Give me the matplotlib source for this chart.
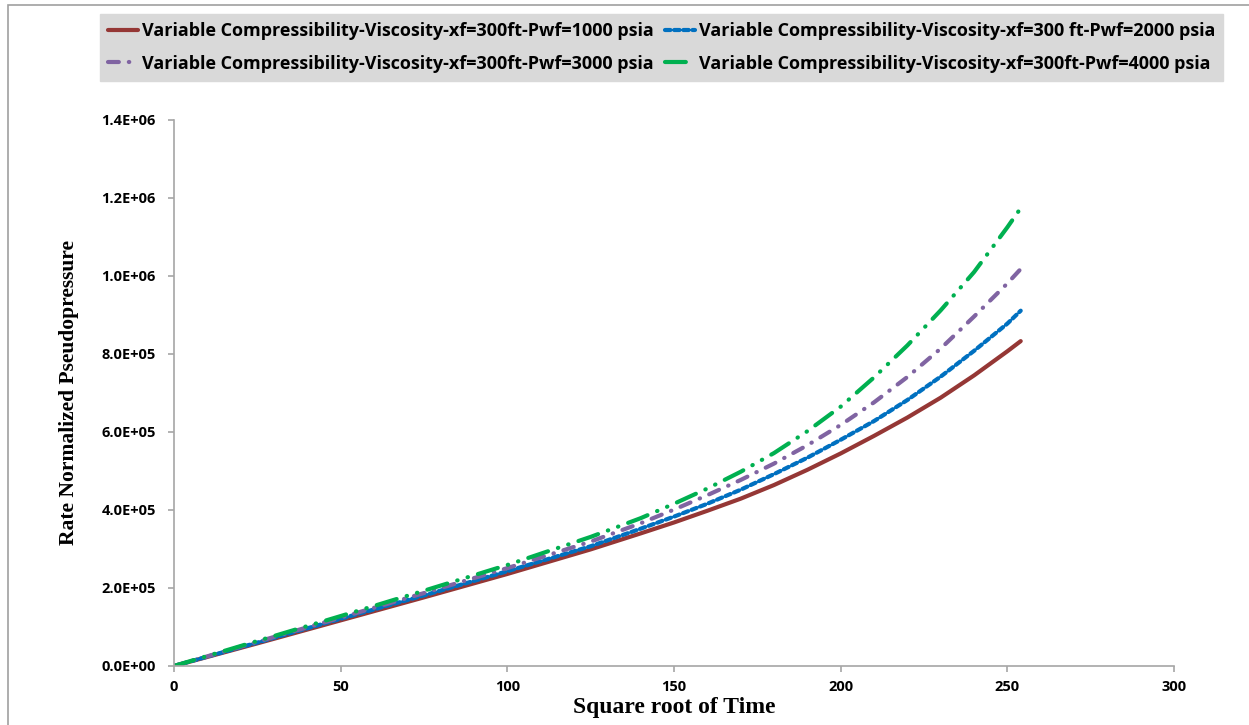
import matplotlib.pyplot as plt
from matplotlib.ticker import FuncFormatter
from matplotlib.patches import Rectangle

# datos (raiz del tiempo vs pseudopresion normalizada)
sqrt_t = [0, 25, 50, 75, 100, 125, 140, 150, 160, 170, 180, 190, 200, 210, 220, 230, 240, 250, 254]
pwf_1000 = [0, 58e3, 117e3, 176e3, 236e3, 299e3, 340e3, 368e3, 398e3, 429e3, 464e3, 503e3,
            545e3, 590e3, 637e3, 688e3, 745e3, 807e3, 833e3]
pwf_2000 = [0, 60e3, 121e3, 181e3, 243e3, 307e3, 352e3, 383e3, 416e3, 452e3, 492e3, 534e3,
            580e3, 628e3, 682e3, 742e3, 808e3, 878e3, 911e3]
pwf_3000 = [0, 62e3, 124e3, 187e3, 251e3, 319e3, 366e3, 401e3, 438e3, 477e3, 519e3, 566e3,
            618e3, 676e3, 741e3, 814e3, 896e3, 981e3, 1018e3]
pwf_4000 = [0, 64e3, 128e3, 193e3, 259e3, 331e3, 379e3, 416e3, 455e3, 498e3, 546e3, 602e3,
            665e3, 740e3, 822e3, 912e3, 1010e3, 1125e3, 1174e3]

labels = ["Variable Compressibility-Viscosity-xf=300ft-Pwf=1000 psia",
          "Variable Compressibility-Viscosity-xf=300 ft-Pwf=2000 psia",
          "Variable Compressibility-Viscosity-xf=300ft-Pwf=3000 psia",
          "Variable Compressibility-Viscosity-xf=300ft-Pwf=4000 psia"]

fig = plt.figure(figsize=(12.49, 7.25), dpi=100, facecolor='white')
ax = fig.add_axes([0.1393, 0.0814, 0.8007, 0.7531])

# borde exterior del area del grafico
fig.patches.append(Rectangle((0.0065, -0.01), 1.2, 1.003, transform=fig.transFigure,
                             fill=False, edgecolor='#A0A0A0', linewidth=1.2))

l1, = ax.plot(sqrt_t, pwf_1000, color='#953735', lw=3, label=labels[0], solid_capstyle='round')
l2, = ax.plot(sqrt_t, pwf_2000, color='#0070C0', lw=3, label=labels[1],
              dashes=(1.3, 0.9), dash_capstyle='round')
l3, = ax.plot(sqrt_t, pwf_3000, color='#8064A2', lw=3, label=labels[2],
              dashes=(2.6, 2.4, 0.1, 2.4), dash_capstyle='round')
l4, = ax.plot(sqrt_t, pwf_4000, color='#00B050', lw=3, label=labels[3],
              dashes=(5, 2.5, 0.1, 2.5, 0.1, 2.5), dash_capstyle='round')

ax.set_xlim(0, 300)
ax.set_ylim(0, 1.4e6)
ax.set_xticks(range(0, 301, 50))
ax.set_yticks([i * 2e5 for i in range(8)])
ax.yaxis.set_major_formatter(FuncFormatter(lambda v, p: f"{v:.1E}"))

for s in ['top', 'right']:
    ax.spines[s].set_visible(False)
for s in ['left', 'bottom']:
    ax.spines[s].set_color('#A6A6A6')
    ax.spines[s].set_linewidth(1.2)
ax.tick_params(direction='out', length=4, width=1.2, color='#A6A6A6')
ax.tick_params(axis='y', pad=9)
ax.tick_params(axis='x', pad=6)
for t in ax.get_xticklabels() + ax.get_yticklabels():
    t.set_fontfamily('Open Sans')
    t.set_fontweight('bold')
    t.set_fontsize(10.5)

ax.set_xlabel("Square root of Time", family='Liberation Serif', weight='bold', fontsize=17, labelpad=2)
ax.set_ylabel("Rate Normalized Pseudopressure", family='Liberation Serif', weight='bold',
              fontsize=15.5, labelpad=16)

leg = fig.legend([l1, l3, l2, l4], [labels[0], labels[2], labels[1], labels[3]],
                 ncol=2, loc='upper center', bbox_to_anchor=(0.5296, 0.993),
                 frameon=True, fancybox=False, facecolor='#D9D9D9',
                 edgecolor='#D9D9D9', framealpha=1, handlelength=1.7, handletextpad=0.2,
                 columnspacing=0.6, borderpad=0.45, labelspacing=0.8,
                 prop={'family': 'Open Sans', 'weight': 'bold', 'size': 13})

plt.savefig("out.png", dpi=100)
